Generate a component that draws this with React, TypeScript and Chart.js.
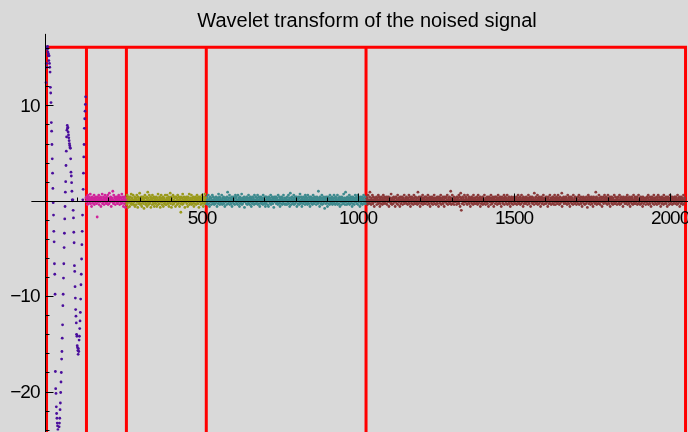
import React, { useEffect, useRef } from "react";
import { Chart, registerables } from "chart.js";

Chart.register(...registerables);

// ---------- text ----------
const TITLE = "Wavelet transform of the noised signal";
const X_MAJOR_TICKS = [500, 1000, 1500, 2000];
const X_MINOR_STEP = 100;
const Y_MAJOR_TICKS = [-20, -10, 10];
const Y_MINOR_STEP = 2;

// ---------- partition of the coefficient vector ----------
const BAND_EDGES = [0, 128, 256, 512, 1024, 2048];
const BAND_TOP = 16.1;

// ---------- coefficients ----------
// approximation part (0..127)
const approx = [
  12.4, 14.4, 14.0, 16.1, 15.9, 16.2, 15.6, 15.2, 15.4, 14.7, 15.2, 14.4, 14.0, 13.5,
  11.9, 11.3, 10.3, 8.2, 7.3, 5.9, 4.4, 2.9, 1.3, -0.2, -1.5, -3.2, -4.3, -6.6, -7.7, -9.8,
  -17.9, -19.7, -20.2, -21.6, -22.3, -22.8, -23.3, -23.6, -24.0, -24.6, -24.9, -24.4, -23.7,
  -23.3, -22.8, -21.9, -21.2, -20.1, -19.0, -18.0, -16.6, -15.8, -14.4, -13.0, -11.0, -9.8,
  -8.1, -6.6, -4.9, -3.4, -1.9, -0.6, 0.9, 2.0, 3.7, 5.2, 6.7,
  7.4, 7.9, 7.6, 7.7, 7.2, 6.9, 6.6, 6.3, 6.0, 5.8, 5.6, 5.5,
  4.4, 3.0, 2.6, 1.9, 1.0, 0.1, 0.0, 0.1, -1.0, -1.8, -3.3, -4.4, -6.8, -7.4, -9.0, -10.2, -11.4,
  -12.1, -12.8, -14.0, -14.2, -15.2, -15.4, -15.7, -16.1, -15.5, -15.8, -14.6, -14.2, -13.4,
  -12.6, -11.7, -10.3, -8.8, -7.7, -6.1, -4.6, -3.2, -1.5, 0.1, 1.2, 2.9, 4.6, 5.9, 7.6, 8.6,
  9.4, 10.1, 10.9,
];

// detail level 4 (128..255)
const detail4 = [
  .3,-.1,.4,0,.1,-.4,.6,.1,-.3,.3,0,.4,-.1,.1,.7,-.3,0,.3,-.6,.1,.4,-.1,.3,0,-.3,.1,.6,-.4,.3,.1,-.1,.4,
  0,.3,-.3,.1,-1.7,.4,.1,-.1,.3,.6,-.4,0,.1,.3,-.1,.4,-.6,.3,0,.1,.7,-.3,.1,-.1,.4,.3,-.4,.1,0,.6,-.1,.3,
  .1,-.3,.4,.3,-.1,0,.6,-.4,.1,.3,-.3,.8,0,.1,-.1,.4,.3,-.6,.1,0,.3,-.1,1.0,.1,-.3,.6,0,-.1,.3,.4,-.4,.1,
  .3,0,-.1,.4,.1,-.3,.4,.3,-.1,.6,0,.1,-.4,.3,.4,-.1,0,.3,-.3,.7,.1,-.1,.4,0,-.6,.3,.1,-.3,.4,0,-.7,.1,
];

// detail level 3 (256..511)
const detail3 = [
  -.1,.3,-.4,0,.6,-.3,.1,-.7,.4,0,-.1,.3,-.6,.1,.4,-.3,0,.7,-.1,-.4,.3,.1,-.3,.6,0,-.4,.1,-.1,.4,-.6,.3,0,
  .1,-.4,.3,.6,-.1,0,-.7,.4,.1,-.3,.3,-.1,.8,0,-.4,.1,-.3,.4,.1,-.6,0,.3,-.1,.4,-.3,.1,-.8,.3,0,.6,-.1,-.4,
  .3,0,-.3,.4,-.6,.1,.9,-.1,.3,-.4,0,.6,-.3,.1,-.1,.4,-.7,.3,0,.1,-.4,.6,-.1,.3,0,-.3,.4,-.6,.1,.3,-.1,0,
  -.3,.4,.1,-.6,0,.3,-.1,.7,-.4,.1,0,-.3,.4,.3,-.7,.1,-.1,.6,0,-.4,.3,-.1,.1,.4,-.6,0,.3,-.3,.1,-.1,.6,-.4,
  .1,0,-.4,.3,.6,-.1,.1,-.3,0,.4,-.6,.3,-.1,.1,.8,-.3,0,.4,-.7,.1,.3,-.1,-.4,.6,0,.1,-.3,.4,-.1,0,.3,-.6,
  .4,-.1,0,.3,-.4,.1,.6,-.3,.1,-.1,.4,0,-.6,.3,.1,-.3,-1.2,.4,0,-.1,.3,-.4,.7,.1,-.3,0,.4,-.1,.3,-.7,.1,0,
  -.1,.3,.4,-.3,0,.1,-.6,.4,.3,-.1,0,.7,-.4,.1,-.3,.3,0,-.1,.6,-.4,.1,.3,-.3,0,.4,-.1,-.6,.3,.1,0,-.3,.4,
  .3,-.4,.1,0,.6,-.1,.3,-.3,.1,.4,-.7,0,.3,-.1,.4,.1,-.4,.3,0,-.3,.6,.1,-.1,.3,-.6,0,.4,-.3,.1,.7,-.1,.3,
];

// detail level 2 (512..1023)
const detail2 = [
  .1,-.3,0,.4,-.1,.3,-.4,.1,.6,0,-.3,.1,-.6,.3,.4,-.1,0,.3,-.4,.1,-.1,.6,0,-.3,.4,.1,-.1,-.4,.3,0,.1,-.3,
  0,.4,-.1,.3,-.6,.1,0,.3,-.3,.7,-.1,.1,.4,-.4,0,.3,-.1,.1,-.3,.6,.1,-.4,0,.3,-.1,.4,-.3,0,.1,-.6,.3,.1,
  -.1,.3,.1,-.4,.4,0,.9,-.3,.1,.3,-.1,0,.6,-.4,.3,-.1,.1,0,-.3,.4,-.6,.3,.1,-.1,0,.4,-.3,.1,.3,-.4,0,.6,
  .3,-.1,.4,0,-.3,.1,-.4,.6,.1,-.1,.3,0,-.6,.4,-.3,.1,.3,-.1,0,.7,-.4,.1,-.3,.3,.1,0,-.1,.4,-.7,.3,-.1,.1,
  0,.1,-.3,.4,.3,-.4,.1,0,-.1,.6,-.3,.3,0,-.4,.1,.4,-.1,.3,-.6,0,.1,-.3,.4,.1,-.1,.3,0,-.4,.6,-.3,.1,0,
  .4,-.3,.1,0,-.1,.3,.6,-.4,0,.1,-.3,.4,.1,-.6,.3,0,-.1,.4,-.3,.1,.3,-.1,0,-.4,.6,.1,-.3,.3,0,-.1,.4,-.6,
  -.3,.1,.4,-.1,0,.3,-.4,.1,.3,-.6,.4,0,-.1,.3,.1,-.3,.6,-.4,0,.1,-.1,.4,.3,-.3,0,.1,-.7,.3,.4,-.1,0,.3,
  .1,.4,-.3,0,.3,-.1,.1,-.4,.6,0,-.3,.1,.4,-.1,-.6,.3,0,.1,-.3,.4,.1,-.4,.3,0,-.1,.6,-.3,.1,0,.3,-.4,.1,
  0,-.3,.3,.1,-.4,.4,.1,-.1,0,.6,-.3,.1,.3,-.6,0,.8,-.1,.3,-.4,.1,.4,0,-.3,.1,-.1,.3,.6,-.4,0,.1,-.3,.4,
  .3,-.1,0,.4,-.6,.1,.3,-.3,.1,0,.4,-.4,.3,-.1,.7,0,-.3,.1,.4,-.1,-.6,.3,0,.1,-.3,.4,.1,-.1,0,.3,-.4,.6,
  -.1,.4,.1,-.3,0,.3,-.4,.6,-.1,.1,0,-.3,.4,.3,-.6,.1,0,.4,-.1,-.3,.3,.1,-.4,0,.6,-.1,.3,-.3,.1,.4,0,-.1,
  .3,0,-.4,.1,.4,-.1,.3,-.3,.1,1.0,-.1,0,.3,-.6,.4,.1,-.3,0,.3,-.1,.6,-.4,.1,.3,0,-.3,.4,-.1,.1,-.8,.3,0,
  .1,-.3,.4,0,-.1,.3,-.6,.1,.4,-.3,0,.3,.1,-.4,.6,-.1,0,.3,-.3,.1,.4,-.1,-.4,.3,0,.1,-.3,.6,-.1,.3,0,-.4,
  .4,.1,-.3,.3,0,-.1,.6,-.4,.1,0,.3,-.3,.1,.4,-.6,0,.3,-.1,.1,-.4,.4,.3,-.1,0,.1,-.3,.7,-.1,.3,0,-.4,.1,
  .9,-.1,.3,0,-.4,.1,.4,-.3,.1,.3,-.1,0,.6,-.4,.3,.1,-.3,.4,0,-.1,.3,-.6,.1,.4,-.3,0,.1,.3,-.4,.1,-.1,.6,
  0,.3,-.1,.4,-.3,.1,0,.6,-.4,.3,.1,-.1,.3,0,-.6,.4,.1,-.3,.3,-.1,0,.4,-.4,.1,.3,-.3,.6,0,-.1,.1,.4,-.3,
];

// detail level 1 (1024..2047)
const detail1 = [
  .1,-.3,.4,0,-.1,.3,-.4,.1,.6,-.3,0,.1,-.1,.4,.9,-.3,.1,0,-.4,.3,.1,-.1,.6,0,-.3,.4,-.1,.1,-.6,.3,0,.1,
  -.1,.3,0,.4,-.4,.1,.3,-.1,0,.6,-.3,.1,.4,-.1,-.6,.3,0,.1,-.3,.4,.1,0,-.4,.3,-.1,.6,.1,-.3,0,.4,-.1,.3,
  .3,0,-.3,.1,.4,-.4,.1,.3,-.1,0,.4,-.6,.3,.1,-.1,.3,0,-.3,.7,-.1,.1,-.4,.3,0,.1,-.3,.4,.1,-.1,0,.3,-.6,
  0,.4,-.1,.3,-.3,.1,0,.6,-.4,.1,.3,-.1,0,.3,-.6,.4,.1,-.3,.1,0,-.1,.4,.3,-.4,.1,0,.3,-.1,.6,-.3,.1,0,
  .1,-.1,.3,.4,-.3,0,.1,-.4,.3,.1,-.1,.6,0,-.3,.4,.1,-.6,.3,0,-.1,.4,-.3,.1,.3,0,-.4,.1,.6,-.1,.3,-.3,0,
  .4,-.3,0,.1,.3,-.1,-.4,.3,.9,0,-.3,.1,.4,-.1,.1,-.6,.3,0,.4,-.3,.1,-.1,.3,.6,-.4,0,.1,-.1,.3,-.3,.4,.1,
  -.3,.1,.4,0,-.1,.3,.1,-.4,.6,-.1,0,.3,-.3,.1,.4,-.6,.1,0,.3,-.1,-.3,.4,.1,0,-.4,.3,.1,-.1,.6,0,-.3,.3,
  .1,0,-.4,.3,.1,-.1,.4,-.3,0,.3,-.6,.1,.4,0,-.1,.3,-.3,.6,.1,-.4,0,.1,.3,-.1,.4,-.3,0,.1,-.6,.3,.4,-.1,
  0,.3,-.1,.4,-.3,.1,.6,0,-.4,.1,.3,-.1,0,.4,-.3,.1,-.1,1.0,.3,-.4,0,.1,.6,-.3,.1,0,-.1,.4,-.4,.3,.1,-.1,
  .3,-.1,.1,0,-.4,.4,.1,-.3,.3,0,-.1,.6,-.3,.1,.4,-.6,0,.8,.3,-1.0,.1,0,-.3,.4,.1,-.1,.3,-.4,0,.6,-.1,.1,
  -.1,.4,0,.3,-.3,.1,-.4,.6,.1,0,-.1,.3,.4,-.3,0,.1,-.6,.3,.1,-.1,.4,0,-.3,.3,.1,-.4,.6,0,-.1,.3,-.3,.1,
  .3,.1,-.3,0,.4,-.1,.1,-.4,.3,.6,-.3,0,.1,-.1,.3,.4,-.6,.1,0,-.3,.3,.1,-.1,.4,-.4,0,.3,.1,-.3,.6,0,-.1,
  .1,-.4,.3,.1,0,-.1,.4,-.3,.1,.3,-.6,0,.4,.1,-.1,.3,0,-.4,.6,-.1,.1,.3,-.3,0,.4,-.1,.1,-.6,.3,0,.1,.4,
  -.3,0,.1,.4,-.1,.3,-.4,.1,0,.6,-.3,.3,.1,-.1,0,.4,-.3,.1,.3,-.6,.1,0,.4,-.1,.3,-.3,0,.1,.6,-.4,.1,.3,
  .4,-.1,0,.3,-.3,.1,.6,-.4,.1,0,.3,-.1,.4,-.3,.1,0,-.6,.3,.1,-.1,.4,-.3,0,.3,.1,-.4,.3,0,-.1,.4,.1,-.3,
  0,.1,-.3,.3,.4,-.4,.1,0,-.1,.6,.3,-.3,.1,-.1,0,.4,-.4,.3,.1,-.3,.6,0,-.1,.1,.3,-.6,.4,0,-.3,.1,.3,-.1,
  .3,-.3,.1,.4,0,-.1,.3,-.4,.1,0,.6,-.1,.3,-.3,0,.1,.4,-.6,.1,.3,-.1,0,.4,-.3,.1,-.1,.3,0,-.4,.8,.1,-.1,
  -.1,.3,.4,-.3,0,.1,-.1,.6,-.4,.3,.1,0,-.3,.4,.1,-.1,.3,-.6,0,.1,.4,-.3,.3,0,-.1,.1,.6,-.4,.1,.3,0,-.3,
  .1,0,-.3,.4,.3,-.1,0,.1,-.6,.3,.4,-.3,.1,0,-.1,.6,-.3,.1,.3,-.4,0,.3,.1,-.1,.4,-.3,0,.1,-.4,.3,.6,-.1,
  .3,-.4,.1,0,.4,-.1,.3,-.3,.1,.6,0,-.1,.3,-.4,.1,.4,-.3,0,.1,-.1,.3,.8,-.6,.1,0,.3,-.1,.4,-.3,.1,0,.3,
  -.1,.1,.4,-.3,.3,0,-.4,.1,.6,-.1,0,.3,-.3,.4,.1,-.6,.3,0,-.1,.4,.1,-.3,.3,0,.1,-.4,.6,-.1,.1,0,.3,-.3,
  .4,0,-.1,.3,-.4,.1,.3,-.1,0,.4,-.3,.1,.6,-.4,0,.3,.1,-.1,.4,-.3,.1,0,-.6,.3,.1,-.1,.4,0,-.3,.3,.1,-.4,
  .1,.3,-.3,0,.4,-.1,.1,-.7,.3,0,.6,-.3,.1,.4,-.1,0,.3,-.4,.1,-.1,.4,.3,-.3,0,.1,-.6,.3,.4,-.1,0,.1,-.3,
  0,.3,.9,-.1,.4,-.4,.1,.3,-.3,0,.1,-.1,.6,-.3,.3,.1,-.4,0,.4,-.1,.1,.3,-.6,0,.3,-.1,.4,-.3,.1,0,.6,-.1,
  .3,-.1,.1,.4,-.3,0,.3,-.4,.1,.6,-.1,0,.3,-.3,.1,.4,-.6,.1,0,.3,-.1,.4,-.3,.1,0,-.4,.3,.1,-.1,.6,0,-.3,
  -.3,.4,0,.1,-.1,.3,-.4,.3,.1,0,.4,-.3,.1,-.1,.6,-.4,0,.3,.1,-.3,.4,0,-.1,.1,.3,-.6,.1,.4,0,-.1,.3,-.3,
  .1,0,.3,-.3,.4,-.1,.1,.6,-.4,0,.3,-.1,.1,-.3,.4,0,-.6,.3,.1,-.1,0,.4,-.3,.3,.1,-.4,0,.6,-.1,.1,-.3,.3,
  .4,-.3,.1,0,-.1,.3,.4,-.4,0,.1,-.3,.6,.1,-.1,.3,0,-.4,.1,.4,-.3,.1,.3,-.1,0,-.6,.4,.1,-.3,.3,0,.1,-.1,
  0,.1,-.4,.3,.1,-.1,.4,0,-.3,.3,.6,-.4,.1,0,-.1,.4,-.3,.1,.3,-.6,.1,0,.4,-.1,.3,-.3,.1,0,.6,-.4,.3,.1,
  -.1,.3,.1,-.3,0,.4,-.4,.1,.3,-.1,.6,0,-.3,.1,.4,-.1,0,.3,-.6,.1,.3,-.3,.4,0,-.1,.1,.3,-.4,.6,0,-.3,.1,
  .3,0,-.1,.4,-.3,.1,.3,-.6,.1,.4,0,-.1,.3,-.4,.1,0,.6,-.3,.1,.3,-.1,0,.4,-.4,.1,.3,-.3,0,.1,-.1,.4,.3,
  .1,-.3,.4,0,.3,-.1,-.4,.1,.6,0,-.3,.3,.1,-.1,.4,-.6,0,.3,.1,-.3,.4,.1,-.1,0,.3,-.4,.1,.6,-.3,0,.1,.3,
];

const SEGMENTS = [
  { values: approx, start: 0 },
  { values: detail4, start: 128 },
  { values: detail3, start: 256 },
  { values: detail2, start: 512 },
  { values: detail1, start: 1024 },
];

// ---------- styles ----------
const COLORS = ["#4a0e9c", "#d0249a", "#9a9a1c", "#3e8a8e", "#8a3a3a"];
const BG = "#d9d9d9";
const FONT = '"Liberation Sans", Arial, sans-serif';

// view window (data units)
const X_MIN = -143.0;
const X_MAX = 2053.0;
const Y_MIN = -24.094;
const Y_MAX = 20.906;
const AXIS_X_FROM = -47;
const AXIS_Y_TO = 17.5;

const decoPlugin = {
  id: "deco",
  beforeDraw(chart: any) {
    const { ctx, width, height } = chart;
    ctx.save();
    ctx.fillStyle = BG;
    ctx.fillRect(0, 0, width, height);
    ctx.restore();
  },
  beforeDatasetsDraw(chart: any) {
    const { ctx, height } = chart;
    const xs = chart.scales.x;
    const ys = chart.scales.y;
    const top = ys.getPixelForValue(BAND_TOP);
    ctx.save();
    ctx.strokeStyle = "#ff0000";
    ctx.lineWidth = 3;
    ctx.lineCap = "square";
    ctx.beginPath();
    ctx.moveTo(xs.getPixelForValue(BAND_EDGES[0]) + 0.5, top);
    ctx.lineTo(xs.getPixelForValue(BAND_EDGES[BAND_EDGES.length - 1]) + 0.5, top);
    for (const e of BAND_EDGES) {
      const px = xs.getPixelForValue(e) + 0.5;
      ctx.moveTo(px, top);
      ctx.lineTo(px, height + 5);
    }
    ctx.stroke();
    ctx.restore();
  },
  afterDatasetsDraw(chart: any) {
    const { ctx, width, height } = chart;
    const xs = chart.scales.x;
    const ys = chart.scales.y;
    const x0 = Math.round(xs.getPixelForValue(0)) - 0.5;
    const y0 = Math.round(ys.getPixelForValue(0)) + 0.5;
    ctx.save();
    ctx.strokeStyle = "#000";
    ctx.lineWidth = 1;
    ctx.beginPath();
    // x axis
    ctx.moveTo(xs.getPixelForValue(AXIS_X_FROM), y0);
    ctx.lineTo(width, y0);
    // y axis
    ctx.moveTo(x0, ys.getPixelForValue(AXIS_Y_TO));
    ctx.lineTo(x0, height);
    // x ticks
    for (let v = X_MINOR_STEP; v <= 2000; v += X_MINOR_STEP) {
      const px = Math.round(xs.getPixelForValue(v)) + 0.5;
      const len = X_MAJOR_TICKS.includes(v) ? 8 : 4;
      ctx.moveTo(px, y0);
      ctx.lineTo(px, y0 - len);
    }
    // y ticks
    for (let v = -24; v <= 16; v += Y_MINOR_STEP) {
      if (v === 0) continue;
      const py = Math.round(ys.getPixelForValue(v)) + 0.5;
      const len = Y_MAJOR_TICKS.includes(v) ? 8 : 4;
      ctx.moveTo(x0, py);
      ctx.lineTo(x0 + len, py);
    }
    ctx.stroke();

    ctx.fillStyle = "#000";
    ctx.font = `19px ${FONT}`;
    (ctx as any).letterSpacing = "-1px";
    ctx.textAlign = "center";
    ctx.textBaseline = "top";
    for (const v of X_MAJOR_TICKS) {
      ctx.fillText(String(v), xs.getPixelForValue(v), y0 + 8);
    }
    ctx.textAlign = "right";
    ctx.textBaseline = "middle";
    for (const v of Y_MAJOR_TICKS) {
      const label = v < 0 ? "\u2212" + String(-v) : String(v);
      ctx.fillText(label, x0 - 6, ys.getPixelForValue(v) + 1);
    }
    ctx.font = `20px ${FONT}`;
    (ctx as any).letterSpacing = "0px";
    ctx.textAlign = "center";
    ctx.textBaseline = "alphabetic";
    ctx.fillText(TITLE, 367, 27);
    ctx.restore();
  },
};

export default function App() {
  const ref = useRef<HTMLCanvasElement | null>(null);
  useEffect(() => {
    const canvas = ref.current;
    if (!canvas) return;
    const datasets = SEGMENTS.map((seg, k) => ({
      data: seg.values.map((v, i) => ({ x: seg.start + i, y: v })),
      backgroundColor: COLORS[k],
      borderWidth: 0,
      pointRadius: 1.4,
      pointHoverRadius: 1.4,
    }));
    const chart = new Chart(canvas, {
      type: "scatter",
      data: { datasets },
      options: {
        responsive: false,
        animation: false,
        devicePixelRatio: 1,
        layout: { padding: 0 },
        plugins: { legend: { display: false }, title: { display: false }, tooltip: { enabled: false } },
        events: [],
        scales: {
          x: { type: "linear", min: X_MIN, max: X_MAX, display: false },
          y: { type: "linear", min: Y_MIN, max: Y_MAX, display: false },
        },
      },
      plugins: [decoPlugin],
    });
    return () => chart.destroy();
  }, []);
  return (
    <div style={{ position: "fixed", left: 0, top: 0, width: 688, height: 432, background: BG }}>
      <canvas ref={ref} width={688} height={432} style={{ display: "block" }} />
    </div>
  );
}
